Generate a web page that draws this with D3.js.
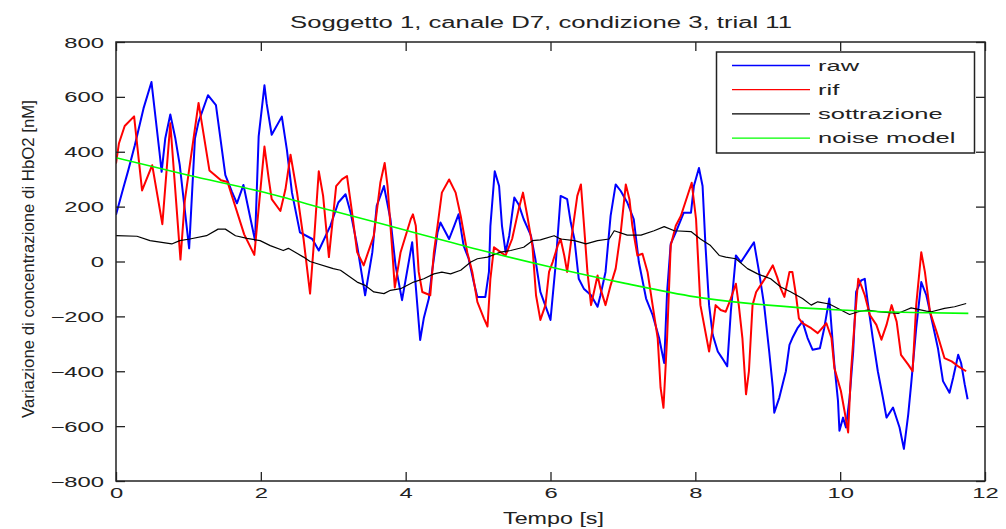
<!DOCTYPE html>
<html><head><meta charset="utf-8">
<script src="https://cdn.jsdelivr.net/npm/d3@7"></script>
<style>
body{margin:0;background:#fff}
text{font-family:"Liberation Sans",Arial,Helvetica,sans-serif;fill:#222}
</style>
</head><body>
<svg id="chart" width="1006" height="529"></svg>
<script>
// ---------- data ----------
const title = "Soggetto 1, canale D7, condizione 3, trial 11";
const xLabel = "Tempo [s]";
const yLabel = "Variazione di concentrazione di HbO2 [nM]";
const xTicks = [0, 2, 4, 6, 8, 10, 12];
const yTicks = [-800, -600, -400, -200, 0, 200, 400, 600, 800];
const seriesNames = ["raw", "rif", "sottrazione", "noise model"];

const rawT = [0,0.10,0.17,0.26,0.38,0.49,0.60,0.63,0.68,0.75,0.82,0.88,1.01,1.09,1.14,1.27,1.38,1.51,1.60,1.67,1.76,1.92,1.97,2.05,2.08,2.15,2.29,2.36,2.43,2.54,2.71,2.80,2.96,3.07,3.17,3.24,3.33,3.44,3.54,3.60,3.70,3.79,3.86,3.95,4.09,4.20,4.25,4.32,4.37,4.44,4.48,4.60,4.67,4.73,4.80,4.87,4.94,4.99,5.10,5.15,5.17,5.23,5.29,5.33,5.38,5.43,5.50,5.56,5.63,5.73,5.79,5.86,6.00,6.07,6.14,6.23,6.28,6.33,6.39,6.46,6.56,6.65,6.69,6.76,6.83,6.90,6.97,7.06,7.15,7.22,7.32,7.41,7.50,7.57,7.61,7.66,7.73,7.84,7.94,7.98,8.05,8.10,8.14,8.19,8.24,8.31,8.37,8.44,8.49,8.56,8.63,8.72,8.81,8.88,8.95,9.02,9.07,9.09,9.16,9.25,9.30,9.34,9.41,9.48,9.55,9.62,9.72,9.78,9.85,9.92,9.97,9.99,10.04,10.08,10.13,10.18,10.22,10.29,10.34,10.38,10.45,10.52,10.59,10.64,10.73,10.82,10.88,10.94,10.98,11.05,11.12,11.19,11.28,11.35,11.42,11.51,11.56,11.63,11.67,11.72,11.76];
const rawV = [170,267,333,424,558,654,400,327,448,536,448,352,48,448,509,606,570,315,255,212,279,76,456,642,576,462,528,407,251,106,82,40,130,215,245,178,58,-123,34,203,275,154,-14,-141,70,-286,-207,-135,-26,106,142,82,130,172,58,10,-75,-129,-129,-38,130,329,275,130,34,94,233,208,154,94,10,-111,-213,-14,239,227,142,82,-63,-99,-123,-165,-123,-38,166,281,257,215,154,-2,-135,-195,-279,-370,-111,64,106,178,178,275,341,275,58,-159,-267,-328,-352,-382,-183,22,-2,34,70,-38,-159,-328,-460,-551,-496,-400,-304,-279,-243,-219,-279,-322,-316,-243,-135,-376,-508,-617,-569,-605,-496,-328,-111,-69,-63,-147,-279,-400,-496,-569,-532,-605,-683,-557,-448,-243,-75,-123,-231,-316,-436,-478,-424,-340,-370,-448,-502];

const rifT = [0,0.04,0.12,0.25,0.36,0.50,0.64,0.75,0.89,0.95,1.14,1.29,1.45,1.54,1.77,1.91,2.05,2.11,2.15,2.27,2.34,2.41,2.50,2.59,2.68,2.73,2.80,2.86,2.94,3.04,3.12,3.19,3.26,3.33,3.42,3.56,3.65,3.71,3.75,3.81,3.85,3.93,4.07,4.10,4.14,4.18,4.23,4.34,4.39,4.44,4.50,4.60,4.69,4.76,4.85,4.92,4.99,5.08,5.13,5.17,5.22,5.31,5.38,5.47,5.56,5.62,5.68,5.75,5.80,5.86,5.93,5.98,6.03,6.10,6.14,6.19,6.23,6.30,6.37,6.42,6.46,6.51,6.56,6.60,6.65,6.69,6.76,6.83,6.90,6.97,7.04,7.09,7.13,7.20,7.27,7.34,7.41,7.48,7.52,7.56,7.61,7.66,7.73,7.80,7.95,8.01,8.07,8.19,8.24,8.28,8.35,8.42,8.49,8.56,8.60,8.65,8.70,8.74,8.79,8.84,8.90,8.99,9.07,9.13,9.18,9.23,9.30,9.34,9.39,9.43,9.48,9.60,9.69,9.81,9.88,9.92,10.01,10.06,10.11,10.15,10.20,10.25,10.29,10.34,10.41,10.50,10.57,10.64,10.71,10.78,10.84,10.94,11.00,11.05,11.12,11.17,11.24,11.33,11.44,11.54,11.63,11.74];
const rifV = [357,430,494,529,259,351,136,504,7,222,578,332,296,290,99,24,419,299,227,184,263,389,251,82,-117,58,329,239,16,275,299,311,178,34,-14,94,287,359,275,58,-95,34,154,172,130,-38,-111,-123,34,130,251,299,251,166,34,-38,-147,-207,-237,-63,52,34,22,82,190,251,166,58,-123,-213,-159,-38,-2,58,82,22,-38,106,239,281,142,-38,-159,-111,-51,-99,-159,-87,-26,106,281,227,130,22,28,-38,-159,-279,-460,-533,-279,58,130,166,287,154,-159,-328,-243,-159,-177,-183,-135,-81,-159,-279,-484,-400,-159,-111,-87,-51,-14,-57,-99,-129,-38,-38,-123,-207,-225,-243,-261,-225,-279,-388,-472,-545,-623,-400,-219,-63,-87,-123,-195,-231,-285,-231,-159,-219,-340,-376,-400,-159,34,-38,-183,-255,-352,-364,-382,-400];

const sotT = [0,0.29,0.47,0.77,0.88,1.02,1.25,1.41,1.51,1.65,1.81,1.99,2.13,2.31,2.38,2.59,2.68,3.00,3.10,3.33,3.44,3.56,3.70,3.79,3.93,4.11,4.25,4.39,4.50,4.62,4.76,4.90,4.99,5.13,5.31,5.45,5.63,5.75,5.86,6.05,6.14,6.33,6.49,6.65,6.81,6.88,7.06,7.25,7.43,7.57,7.71,7.94,8.07,8.21,8.33,8.42,8.56,8.72,8.86,9.04,9.18,9.32,9.48,9.60,9.69,9.85,10.13,10.25,10.38,10.52,10.80,10.91,10.98,11.19,11.26,11.44,11.58,11.74];
const sotV = [94,92,76,64,76,82,94,118,118,94,84,76,58,40,48,16,0,-26,-32,-75,-87,-111,-117,-105,-99,-75,-63,-45,-39,-45,-32,-2,10,16,34,40,52,76,79,94,82,76,64,76,82,112,96,96,112,127,112,109,82,58,22,16,10,-26,-45,-63,-93,-111,-135,-159,-147,-155,-193,-183,-177,-183,-189,-177,-169,-181,-183,-171,-165,-153];

const noiseT = [0,1,2,3,4,5,6,7,8,9,10,11,11.77];
const noiseV = [378,314,255,184,114,44,-20,-78,-129,-159,-177,-186,-189];

// ---------- chart ----------
const W = 1006, H = 529;
const mL = 116, mR = 985, mT = 42, mB = 481;
const svg = d3.select("#chart");
svg.append("rect").attr("width", W).attr("height", H).attr("fill", "#fff");

const x = d3.scaleLinear().domain([0, 12]).range([mL, mR]);
const y = d3.scaleLinear().domain([-800, 800]).range([mB, mT]);

const series = [
  {name: seriesNames[0], data: d3.zip(rawT, rawV), color: "#0000ff", w: 2, curve: d3.curveLinear},
  {name: seriesNames[1], data: d3.zip(rifT, rifV), color: "#ff0000", w: 2, curve: d3.curveLinear},
  {name: seriesNames[2], data: d3.zip(sotT, sotV), color: "#000000", w: 1.2, curve: d3.curveLinear},
  {name: seriesNames[3], data: d3.zip(noiseT, noiseV), color: "#00ff00", w: 1.6, curve: d3.curveMonotoneX}
];

svg.append("clipPath").attr("id", "clip").append("rect")
  .attr("x", mL).attr("y", mT).attr("width", mR - mL).attr("height", mB - mT);

const plot = svg.append("g").attr("clip-path", "url(#clip)");
series.forEach(s => {
  const line = d3.line().x(d => x(d[0])).y(d => y(d[1])).curve(s.curve);
  plot.append("path").datum(s.data)
    .attr("fill", "none").attr("stroke", s.color).attr("stroke-width", s.w)
    .attr("stroke-linejoin", "round").attr("d", line);
});

const axisColor = "#222";
const tickLen = 9;
const sx = 1.7;

function style(g) {
  g.selectAll("line").attr("stroke", axisColor).attr("stroke-width", 1.3);
  g.select(".domain").remove();
}

const gl = svg.append("g").attr("transform", `translate(${mL},0)`)
  .call(d3.axisLeft(y).tickValues(yTicks).tickSizeInner(-tickLen).tickSizeOuter(0).tickFormat(d3.format("d")));
style(gl);
gl.selectAll("text").attr("font-size", 14).attr("fill", "#222")
  .attr("text-anchor", "end").attr("x", -12 / sx).attr("dy", "0.36em")
  .attr("transform", `scale(${sx},1)`);

const gr = svg.append("g").attr("transform", `translate(${mR},0)`)
  .call(d3.axisRight(y).tickValues(yTicks).tickSizeInner(-tickLen).tickSizeOuter(0).tickFormat(""));
style(gr);

const gb = svg.append("g").attr("transform", `translate(0,${mB})`)
  .call(d3.axisBottom(x).tickValues(xTicks).tickSizeInner(-tickLen).tickSizeOuter(0).tickFormat(d3.format("d")));
style(gb);
gb.selectAll("text").attr("font-size", 14).attr("fill", "#222")
  .attr("y", 17).attr("dy", 0).attr("x", 0)
  .attr("transform", `scale(${sx},1)`);

const gt = svg.append("g").attr("transform", `translate(0,${mT})`)
  .call(d3.axisTop(x).tickValues(xTicks).tickSizeInner(-tickLen).tickSizeOuter(0).tickFormat(""));
style(gt);

svg.append("rect").attr("x", mL).attr("y", mT).attr("width", mR - mL).attr("height", mB - mT)
  .attr("fill", "none").attr("stroke", axisColor).attr("stroke-width", 1.5);

svg.append("text").attr("x", 290).attr("y", 28).attr("font-size", 16)
  .attr("textLength", 502).attr("lengthAdjust", "spacingAndGlyphs").text(title);

svg.append("text").attr("x", 503).attr("y", 524).attr("font-size", 17)
  .attr("textLength", 101).attr("lengthAdjust", "spacingAndGlyphs").text(xLabel);

svg.append("text").attr("transform", "translate(34,418) rotate(-90)")
  .attr("x", 0).attr("y", 0).attr("font-size", 17)
  .attr("textLength", 318).attr("lengthAdjust", "spacingAndGlyphs").text(yLabel);

const lg = svg.append("g");
lg.append("rect").attr("x", 716.5).attr("y", 52).attr("width", 258).attr("height", 101)
  .attr("fill", "#fff").attr("stroke", axisColor).attr("stroke-width", 1.5);
series.forEach((s, i) => {
  const cy = 65.5 + i * 24.2;
  lg.append("line").attr("x1", 732).attr("x2", 810).attr("y1", cy).attr("y2", cy)
    .attr("stroke", s.color).attr("stroke-width", 1.3);
  lg.append("text").attr("transform", `translate(818,${cy + 5}) scale(${sx},1)`)
    .attr("font-size", 15).text(s.name);
});
</script>
</body></html>
